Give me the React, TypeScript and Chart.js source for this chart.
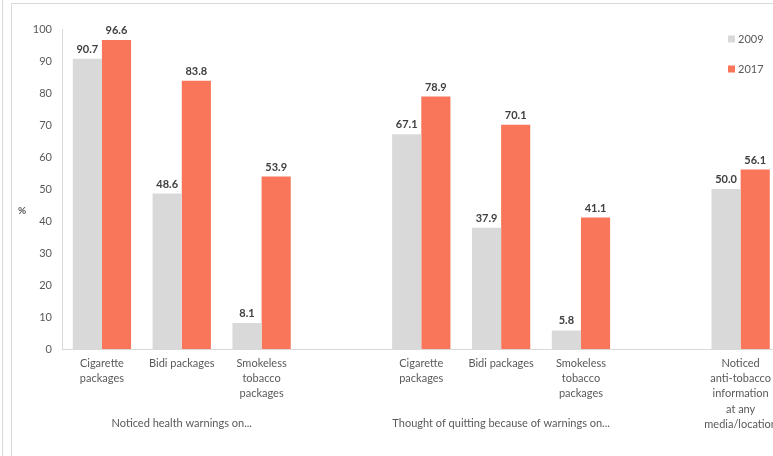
import React, { useEffect, useRef } from "react";
import { Chart, registerables } from "chart.js";

Chart.register(...registerables);

// Category axis labels (multi-line); empty slots separate the groups
const categories: (string | string[])[] = [
  ["Cigarette", "packages"],
  "Bidi packages",
  ["Smokeless", "tobacco", "packages"],
  "",
  ["Cigarette", "packages"],
  "Bidi packages",
  ["Smokeless", "tobacco", "packages"],
  "",
  ["Noticed", "anti-tobacco", "information", "at any", "media/location"],
];

const values2009: (number | null)[] = [90.7, 48.6, 8.1, null, 67.1, 37.9, 5.8, null, 50.0];
const values2017: (number | null)[] = [96.6, 83.8, 53.9, null, 78.9, 70.1, 41.1, null, 56.1];

const seriesLabels = ["2009", "2017"];
const seriesColors = ["#D9D9D9", "#F9765A"];

// Group captions and the category index each is centred under
const groupCaptions = ["Noticed health warnings on...", "Thought of quitting because of warnings on..."];
const groupCenters = [1, 5];

const yTitle = "%";
const FONT = "Lato, 'Open Sans', sans-serif";
const TEXT = "#595959";
const LINE = "#D9D9D9";

const framePlugin = {
  id: "frame",
  beforeDraw(chart: any) {
    const ctx = chart.ctx;
    ctx.save();
    ctx.strokeStyle = LINE;
    ctx.lineWidth = 1;
    ctx.beginPath();
    ctx.moveTo(2.5, 0);
    ctx.lineTo(2.5, chart.height);
    ctx.moveTo(11.5, chart.height);
    ctx.lineTo(11.5, 3.5);
    ctx.lineTo(chart.width, 3.5);
    ctx.stroke();
    ctx.restore();
  },
};

const annotationsPlugin = {
  id: "annotations",
  afterDatasetsDraw(chart: any) {
    const ctx = chart.ctx;
    ctx.save();
    // value labels above bars
    ctx.font = `bold 11px ${FONT}`;
    ctx.fillStyle = "#404040";
    ctx.textAlign = "center";
    ctx.textBaseline = "bottom";
    chart.data.datasets.forEach((ds: any, di: number) => {
      const meta = chart.getDatasetMeta(di);
      meta.data.forEach((el: any, i: number) => {
        const v = ds.data[i];
        if (v == null) return;
        ctx.fillText(v.toFixed(1), el.x, el.y - 4);
      });
    });

    // group captions under the category labels
    const xs = chart.scales.x;
    ctx.font = `11px ${FONT}`;
    ctx.fillStyle = TEXT;
    ctx.textBaseline = "middle";
    groupCaptions.forEach((t, i) => {
      ctx.fillText(t, xs.getPixelForValue(groupCenters[i]), 423);
    });

    // axis title
    ctx.font = `bold 10px ${FONT}`;
    ctx.fillText(yTitle, 22, 211);

    // legend
    ctx.font = `11px ${FONT}`;
    ctx.textAlign = "left";
    seriesLabels.forEach((t, i) => {
      const cy = 39 + i * 30;
      ctx.fillStyle = seriesColors[i];
      ctx.fillRect(728, cy - 3.5, 7, 7);
      ctx.fillStyle = TEXT;
      ctx.fillText(t, 738, cy);
    });
    ctx.restore();
  },
};

export default function App() {
  const ref = useRef<HTMLCanvasElement | null>(null);

  useEffect(() => {
    if (!ref.current) return;
    const chart = new Chart(ref.current, {
      type: "bar",
      data: {
        labels: categories,
        datasets: seriesLabels.map((label, i) => ({
          label,
          data: i === 0 ? values2009 : values2017,
          backgroundColor: seriesColors[i],
          barPercentage: 1,
          categoryPercentage: 0.73,
        })),
      },
      options: {
        animation: false,
        responsive: true,
        maintainAspectRatio: false,
        layout: { padding: { left: 12, top: 29, right: 0, bottom: 0 } },
        plugins: {
          legend: { display: false },
          tooltip: { enabled: false },
        },
        scales: {
          x: {
            grid: { display: false, drawTicks: false },
            border: { display: true, color: LINE, width: 1 },
            ticks: {
              color: TEXT,
              font: { family: FONT, size: 11, lineHeight: 1.38 },
              padding: 7,
              maxRotation: 0,
              autoSkip: false,
            },
            afterFit(scale: any) {
              scale.height = 107;
            },
          },
          y: {
            min: 0,
            max: 100,
            grid: { display: false, drawTicks: false },
            border: { display: true, color: LINE, width: 1 },
            ticks: {
              stepSize: 10,
              color: TEXT,
              font: { family: FONT, size: 11 },
              padding: 10,
            },
            afterFit(scale: any) {
              scale.width = 50;
            },
          },
        },
      },
      plugins: [framePlugin, annotationsPlugin],
    });
    return () => chart.destroy();
  }, []);

  return (
    <div style={{ position: "fixed", left: 0, top: 0, width: 773, height: 456, overflow: "hidden", background: "#fff" }}>
      <div style={{ position: "relative", width: 784, height: 456 }}>
        <canvas ref={ref} />
      </div>
    </div>
  );
}
